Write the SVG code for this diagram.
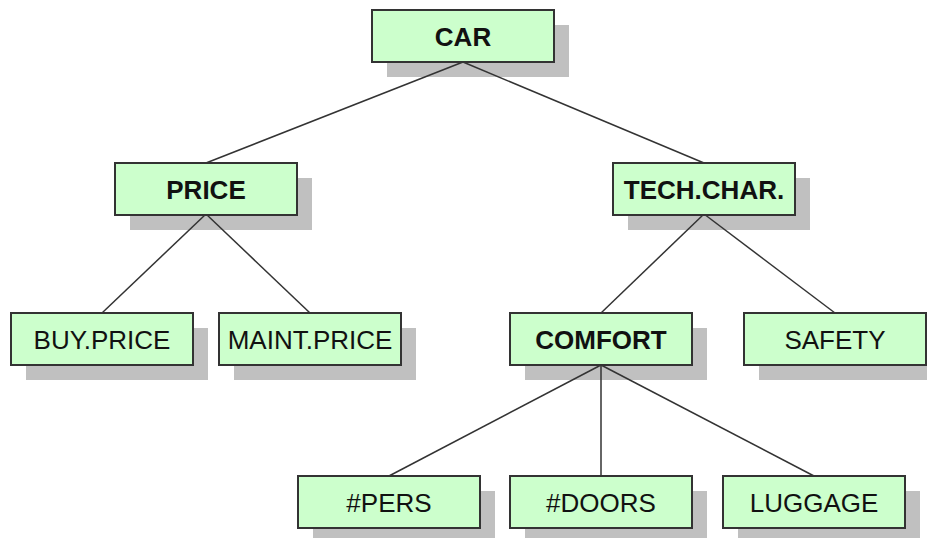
<svg xmlns="http://www.w3.org/2000/svg" width="927" height="538" viewBox="0 0 927 538">
<style>
.sh{fill:#c0c0c0}
.bx{fill:#ccffcc;stroke:#333;stroke-width:2}
.t{font-family:"Liberation Sans",Arial,sans-serif;font-size:26px;fill:#111;text-anchor:middle}
.b{font-weight:bold}
#connectors line{stroke:#333;stroke-width:1.5}
</style>
<rect width="927" height="538" fill="#fff"/>
<g id="shadows">
<rect class="sh" x="387" y="25" width="182" height="52"/>
<rect class="sh" x="130" y="178" width="182" height="52"/>
<rect class="sh" x="628" y="178" width="182" height="52"/>
<rect class="sh" x="26" y="328" width="182" height="52"/>
<rect class="sh" x="234" y="328" width="182" height="52"/>
<rect class="sh" x="525" y="328" width="182" height="52"/>
<rect class="sh" x="759" y="328" width="182" height="52"/>
<rect class="sh" x="313" y="491" width="182" height="52"/>
<rect class="sh" x="525" y="491" width="182" height="52"/>
<rect class="sh" x="738" y="491" width="182" height="52"/>
</g>
<g id="connectors">
<line x1="463" y1="62" x2="206" y2="163"/>
<line x1="463" y1="62" x2="704" y2="163"/>
<line x1="206" y1="214" x2="102" y2="313"/>
<line x1="206" y1="214" x2="310" y2="313"/>
<line x1="704" y1="214" x2="601" y2="313"/>
<line x1="704" y1="214" x2="835" y2="313"/>
<line x1="601" y1="365" x2="389" y2="476"/>
<line x1="601" y1="365" x2="601" y2="476"/>
<line x1="601" y1="365" x2="814" y2="476"/>
</g>
<g id="car"><rect class="bx" x="372" y="10" width="182" height="52"/><text class="t b" x="463" y="45.5">CAR</text></g>
<g id="price"><rect class="bx" x="115" y="163" width="182" height="52"/><text class="t b" x="206" y="198.5">PRICE</text></g>
<g id="techchar"><rect class="bx" x="613" y="163" width="182" height="52"/><text class="t b" x="704" y="198.5">TECH.CHAR.</text></g>
<g id="buyprice"><rect class="bx" x="11" y="313" width="182" height="52"/><text class="t" x="102" y="348.5">BUY.PRICE</text></g>
<g id="maintprice"><rect class="bx" x="219" y="313" width="182" height="52"/><text class="t" x="310" y="348.5">MAINT.PRICE</text></g>
<g id="comfort"><rect class="bx" x="510" y="313" width="182" height="52"/><text class="t b" x="601" y="348.5">COMFORT</text></g>
<g id="safety"><rect class="bx" x="744" y="313" width="182" height="52"/><text class="t" x="835" y="348.5">SAFETY</text></g>
<g id="pers"><rect class="bx" x="298" y="476" width="182" height="52"/><text class="t" x="389" y="511.5">#PERS</text></g>
<g id="doors"><rect class="bx" x="510" y="476" width="182" height="52"/><text class="t" x="601" y="511.5">#DOORS</text></g>
<g id="luggage"><rect class="bx" x="723" y="476" width="182" height="52"/><text class="t" x="814" y="511.5">LUGGAGE</text></g>
</svg>
